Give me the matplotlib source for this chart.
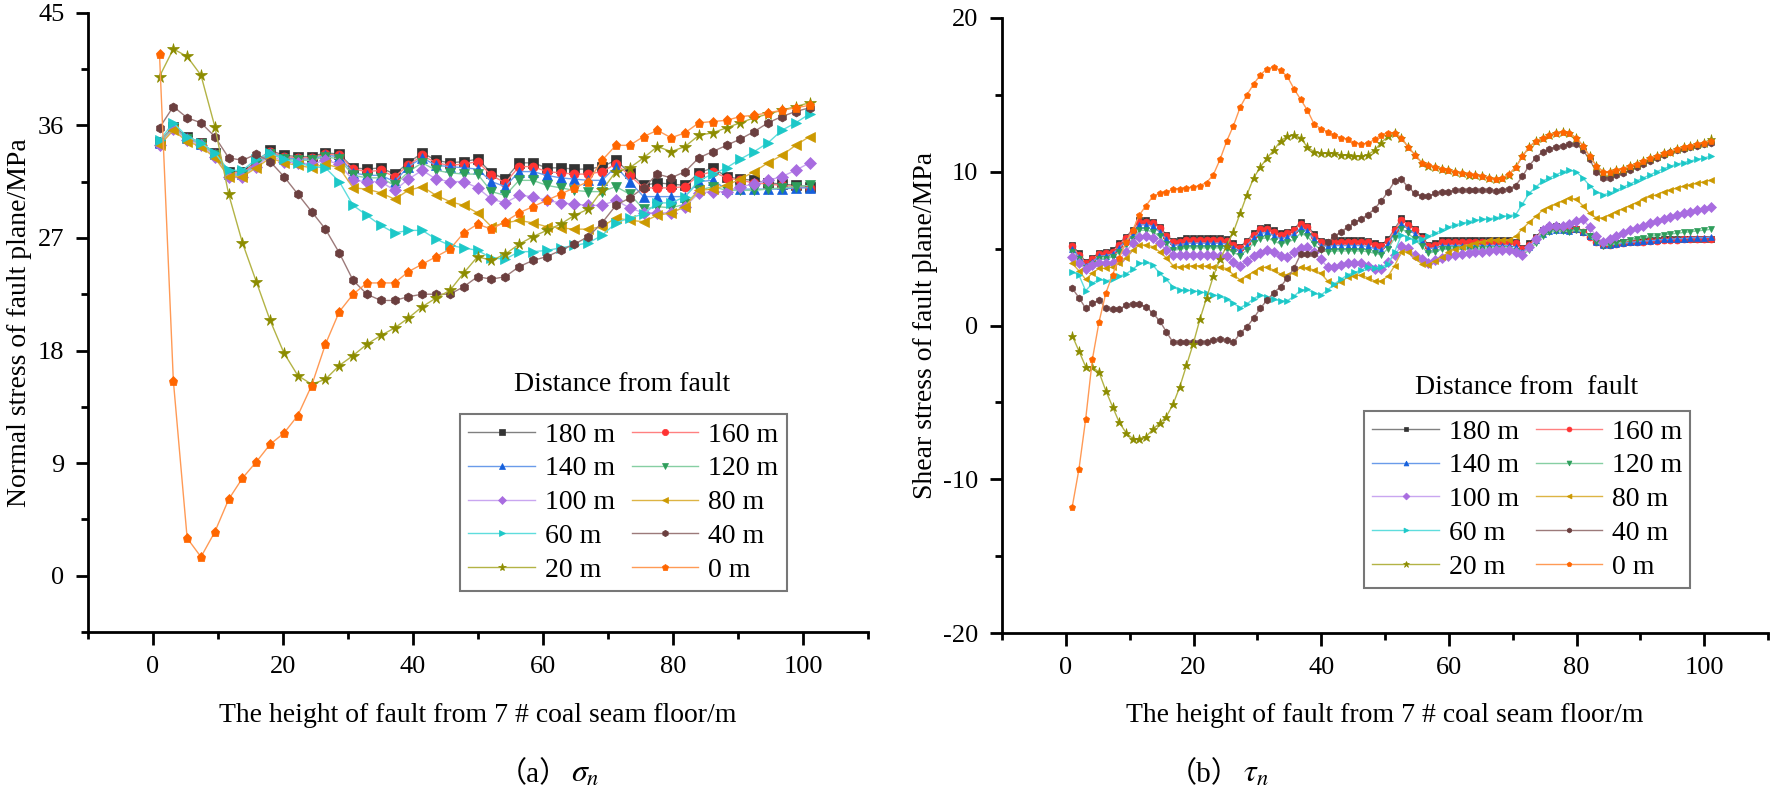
import numpy as np
import matplotlib
matplotlib.use('Agg')
import matplotlib.pyplot as plt
from matplotlib.ticker import MultipleLocator

plt.rcParams['font.family'] = ['Liberation Serif', 'Noto Sans CJK SC']
plt.rcParams['mathtext.fontset'] = 'stix'
plt.rcParams['axes.unicode_minus'] = False

labels = ['180 m', '160 m', '140 m', '120 m', '100 m', '80 m', '60 m', '40 m', '20 m', '0 m']

# (a) normal stress, 48 points from 1 to 101 m
sn_180 = [34.7, 35.9, 35.1, 34.6, 33.8, 32.3, 32.3, 33.1, 34.0, 33.6, 33.5, 33.5, 33.8, 33.7, 32.6,
          32.5, 32.6, 32.1, 33.0, 33.8, 33.2, 33.0, 33.1, 33.3, 32.2, 31.7, 33.0, 33.0, 32.6, 32.6,
          32.5, 32.5, 32.7, 33.2, 32.2, 31.2, 31.4, 31.3, 31.2, 32.2, 32.6, 31.9, 31.7, 31.6, 31.4,
          31.3, 31.2, 31.1]
sn_160 = [34.7, 35.8, 35.0, 34.6, 33.7, 32.2, 32.2, 33.0, 33.9, 33.5, 33.4, 33.4, 33.7, 33.6, 32.5,
          32.3, 32.4, 31.9, 32.8, 33.6, 33.0, 32.8, 32.9, 33.1, 32.0, 31.4, 32.7, 32.7, 32.3, 32.2,
          32.1, 32.1, 32.3, 32.9, 32.0, 31.0, 31.0, 31.0, 31.1, 32.0, 32.3, 31.8, 31.6, 31.4, 31.3,
          31.2, 31.1, 31.0]
sn_140 = [34.6, 35.8, 35.0, 34.5, 33.7, 32.1, 32.1, 32.9, 33.8, 33.4, 33.3, 33.3, 33.6, 33.5, 32.2,
          32.0, 32.0, 31.5, 32.7, 33.4, 32.8, 32.7, 32.6, 32.5, 31.5, 31.1, 32.3, 32.3, 32.0, 31.8,
          31.7, 31.6, 31.6, 32.7, 31.5, 30.3, 30.3, 30.3, 30.3, 31.5, 31.6, 30.9, 30.9, 30.9, 30.9,
          30.9, 31.0, 31.0]
sn_120 = [34.6, 35.8, 34.9, 34.5, 33.6, 32.0, 32.0, 32.8, 33.7, 33.3, 33.2, 33.2, 33.5, 33.3, 32.0,
          31.8, 31.8, 31.2, 32.3, 33.0, 32.4, 32.2, 32.1, 32.1, 30.7, 30.4, 31.6, 31.6, 31.2, 31.0,
          30.8, 30.7, 30.7, 31.1, 30.5, 29.3, 29.5, 29.4, 29.7, 30.8, 31.1, 30.8, 30.8, 30.8, 30.9,
          31.0, 31.1, 31.2]
sn_100 = [34.4, 35.7, 34.8, 34.4, 33.5, 31.9, 31.9, 32.7, 33.6, 33.1, 33.0, 32.9, 33.2, 32.9, 31.6,
          31.5, 31.5, 30.8, 31.7, 32.4, 31.7, 31.5, 31.5, 31.0, 30.1, 29.8, 30.4, 30.3, 30.0, 29.8,
          29.7, 29.6, 29.6, 30.0, 29.4, 29.0, 29.0, 29.0, 29.5, 30.6, 30.7, 30.7, 31.1, 31.3, 31.6,
          31.9, 32.4, 33.0]
sn_80 = [34.4, 35.6, 34.7, 34.3, 33.4, 31.9, 31.9, 32.6, 33.4, 33.0, 32.8, 32.6, 32.9, 32.6, 31.0,
         30.9, 30.6, 30.1, 30.8, 31.1, 30.4, 29.9, 29.6, 29.0, 27.9, 28.2, 28.4, 28.2, 27.9, 27.8,
         27.7, 27.7, 27.9, 28.6, 28.4, 28.3, 28.8, 29.0, 29.5, 30.8, 30.9, 31.2, 31.7, 32.3, 33.0,
         33.6, 34.4, 35.1]
sn_60 = [34.8, 36.2, 35.1, 34.6, 33.8, 32.4, 32.4, 33.3, 33.8, 33.3, 33.0, 32.7, 32.6, 31.5, 29.6,
         28.8, 28.0, 27.4, 27.6, 27.6, 26.9, 26.4, 26.2, 26.0, 25.4, 25.3, 25.9, 25.9, 26.0, 26.2,
         26.4, 26.6, 27.2, 28.2, 28.6, 28.9, 29.8, 29.8, 30.3, 31.6, 32.1, 32.6, 33.3, 33.9, 34.6,
         35.6, 36.2, 36.9]
sn_40 = [35.8, 37.5, 36.6, 36.2, 35.1, 33.4, 33.2, 33.7, 33.1, 31.9, 30.5, 29.1, 27.7, 25.8, 23.6,
         22.5, 22.0, 22.0, 22.3, 22.5, 22.5, 22.5, 23.1, 23.9, 23.7, 23.9, 24.7, 25.2, 25.5, 26.0,
         26.5, 27.1, 28.2, 29.6, 30.2, 31.0, 32.1, 31.8, 32.3, 33.4, 33.9, 34.4, 34.9, 35.5, 36.2,
         36.7, 37.1, 37.4]
sn_20 = [39.9, 42.1, 41.5, 40.0, 35.9, 30.5, 26.6, 23.5, 20.4, 17.8, 16.0, 15.3, 15.7, 16.8, 17.6,
         18.5, 19.2, 19.8, 20.6, 21.5, 22.2, 22.8, 24.2, 25.5, 25.2, 25.7, 26.5, 27.1, 27.6, 28.1,
         28.8, 29.3, 30.8, 32.3, 32.6, 33.4, 34.3, 33.9, 34.3, 35.2, 35.4, 35.8, 36.2, 36.6, 36.9,
         37.2, 37.5, 37.8]
sn_0 = [41.7, 15.6, 3.0, 1.5, 3.5, 6.1, 7.8, 9.1, 10.5, 11.4, 12.8, 15.2, 18.5, 21.1, 22.5,
        23.4, 23.4, 23.4, 24.3, 24.9, 25.5, 26.1, 27.4, 28.1, 27.7, 28.3, 29.0, 29.5, 30.0, 30.5,
        31.0, 31.5, 33.2, 34.4, 34.4, 35.1, 35.6, 35.0, 35.4, 36.2, 36.3, 36.4, 36.7, 36.8, 37.0,
        37.2, 37.4, 37.6]

# (b) shear stress, 96 points from 1 to 101 m
tau_180 = [5.24, 4.7, 4.15, 4.37, 4.74, 4.8, 4.9, 5.35, 5.78, 6.2, 6.86, 6.86, 6.75, 6.43, 5.9, 5.5,
           5.55, 5.67, 5.67, 5.67, 5.67, 5.67, 5.67, 5.6, 5.35, 5.13, 5.5, 6.0, 6.35, 6.43, 6.2, 6.0,
           6.1, 6.3, 6.7, 6.5, 5.95, 5.5, 5.45, 5.55, 5.56, 5.56, 5.56, 5.56, 5.5, 5.35, 5.25, 5.6,
           6.3, 6.97, 6.65, 6.3, 5.8, 5.24, 5.35, 5.55, 5.56, 5.56, 5.56, 5.56, 5.56, 5.56, 5.56, 5.56,
           5.56, 5.56, 5.45, 5.02, 5.35, 5.78, 6.2, 6.4, 6.45, 6.4, 6.3, 6.3, 6.1, 5.8, 5.5, 5.3,
           5.3, 5.35, 5.4, 5.45, 5.5, 5.5, 5.55, 5.55, 5.6, 5.6, 5.6, 5.6, 5.65, 5.65, 5.65, 5.65]
tau_160 = [5.15, 4.6, 4.05, 4.3, 4.65, 4.7, 4.8, 5.25, 5.7, 6.1, 6.75, 6.75, 6.65, 6.35, 5.8, 5.4,
           5.45, 5.55, 5.55, 5.55, 5.55, 5.55, 5.55, 5.5, 5.25, 5.05, 5.4, 5.9, 6.25, 6.3, 6.1, 5.9,
           6.0, 6.2, 6.6, 6.4, 5.85, 5.4, 5.35, 5.45, 5.45, 5.45, 5.45, 5.45, 5.4, 5.25, 5.15, 5.5,
           6.2, 6.85, 6.55, 6.2, 5.7, 5.15, 5.25, 5.45, 5.45, 5.45, 5.45, 5.45, 5.45, 5.45, 5.45, 5.45,
           5.45, 5.45, 5.35, 4.95, 5.25, 5.7, 6.1, 6.3, 6.35, 6.3, 6.2, 6.25, 6.05, 5.75, 5.45, 5.25,
           5.25, 5.3, 5.35, 5.4, 5.45, 5.45, 5.5, 5.5, 5.55, 5.55, 5.55, 5.6, 5.6, 5.6, 5.6, 5.6]
tau_140 = [5.0, 4.45, 3.9, 4.15, 4.5, 4.55, 4.65, 5.05, 5.5, 5.9, 6.55, 6.55, 6.45, 6.1, 5.6, 5.2,
           5.25, 5.35, 5.35, 5.35, 5.35, 5.35, 5.35, 5.3, 5.05, 4.85, 5.2, 5.7, 6.0, 6.05, 5.85, 5.65,
           5.75, 5.95, 6.35, 6.15, 5.6, 5.2, 5.15, 5.2, 5.2, 5.2, 5.2, 5.2, 5.15, 5.0, 4.9, 5.3,
           6.0, 6.6, 6.3, 5.95, 5.5, 5.0, 5.05, 5.2, 5.2, 5.2, 5.2, 5.2, 5.2, 5.2, 5.2, 5.2,
           5.2, 5.2, 5.1, 4.8, 5.1, 5.55, 5.95, 6.15, 6.2, 6.2, 6.15, 6.25, 6.1, 5.8, 5.45, 5.25,
           5.25, 5.3, 5.35, 5.4, 5.45, 5.5, 5.5, 5.55, 5.6, 5.6, 5.65, 5.65, 5.7, 5.7, 5.7, 5.75]
tau_120 = [4.8, 4.3, 3.75, 4.0, 4.3, 4.35, 4.45, 4.8, 5.25, 5.6, 6.2, 6.2, 6.1, 5.8, 5.3, 4.9,
           4.95, 5.05, 5.05, 5.05, 5.05, 5.05, 5.05, 5.0, 4.75, 4.55, 4.9, 5.35, 5.65, 5.7, 5.5, 5.3,
           5.4, 5.6, 6.0, 5.8, 5.3, 4.9, 4.8, 4.85, 4.85, 4.85, 4.85, 4.85, 4.8, 4.7, 4.6, 5.0,
           5.7, 6.3, 6.0, 5.6, 5.15, 4.7, 4.8, 4.95, 4.95, 4.95, 4.95, 4.95, 4.95, 4.95, 4.95, 4.95,
           4.95, 4.95, 4.85, 4.6, 4.9, 5.35, 5.8, 6.05, 6.15, 6.15, 6.1, 6.2, 6.1, 5.8, 5.4, 5.2,
           5.25, 5.35, 5.45, 5.55, 5.65, 5.7, 5.8, 5.85, 5.9, 5.95, 6.0, 6.05, 6.1, 6.15, 6.2, 6.25]
tau_100 = [4.47, 4.04, 3.65, 3.93, 4.08, 4.08, 4.08, 4.26, 4.8, 5.35, 5.78, 5.8, 5.67, 5.35, 4.9, 4.6,
           4.58, 4.58, 4.58, 4.58, 4.58, 4.58, 4.55, 4.5, 4.15, 3.85, 4.2, 4.5, 4.7, 4.9, 4.8, 4.55,
           4.47, 4.75, 5.05, 5.1, 4.8, 4.3, 3.8, 3.8, 3.95, 4.04, 4.04, 4.04, 3.85, 3.65, 3.7, 4.1,
           4.6, 5.2, 5.05, 4.6, 4.3, 4.05, 4.25, 4.4, 4.5, 4.6, 4.65, 4.7, 4.75, 4.8, 4.85, 4.9,
           4.9, 4.9, 4.8, 4.6, 5.1, 5.6, 6.2, 6.45, 6.5, 6.5, 6.6, 6.8, 6.9, 6.4, 5.8, 5.4,
           5.6, 5.8, 6.0, 6.2, 6.35, 6.5, 6.65, 6.8, 6.9, 7.05, 7.2, 7.3, 7.4, 7.5, 7.6, 7.7]
tau_80 = [4.04, 3.56, 3.0, 3.4, 3.72, 3.72, 3.82, 4.04, 4.37, 4.9, 5.24, 5.24, 5.13, 4.8, 4.4, 3.9,
          3.8, 3.85, 3.89, 3.89, 3.85, 3.82, 3.8, 3.7, 3.3, 2.96, 3.2, 3.5, 3.75, 3.8, 3.6, 3.35,
          3.3, 3.4, 3.8, 3.75, 3.6, 3.4, 2.9, 2.64, 2.85, 3.15, 3.25, 3.28, 3.1, 2.9, 2.9, 3.2,
          3.9, 4.8, 4.8, 4.4, 4.0, 3.95, 4.2, 4.45, 4.75, 4.95, 5.1, 5.25, 5.35, 5.45, 5.55, 5.56,
          5.56, 5.56, 5.8, 6.3, 6.7, 7.1, 7.5, 7.7, 7.9, 8.1, 8.3, 8.2, 7.8, 7.3, 7.0, 7.0,
          7.2, 7.4, 7.6, 7.8, 8.0, 8.2, 8.4, 8.5, 8.7, 8.8, 8.95, 9.05, 9.15, 9.25, 9.35, 9.45]
tau_60 = [3.5, 3.28, 2.26, 2.74, 3.0, 2.9, 3.0, 3.2, 3.35, 3.65, 4.04, 4.1, 3.93, 3.4, 3.0, 2.5,
          2.3, 2.3, 2.25, 2.2, 2.1, 2.0, 1.9, 1.7, 1.45, 1.15, 1.4, 1.75, 2.0, 1.85, 1.7, 1.6,
          1.6, 1.9, 2.3, 2.35, 2.1, 1.98, 2.3, 2.7, 3.0, 3.3, 3.45, 3.6, 3.8, 3.75, 3.8, 4.0,
          4.8, 5.9, 5.7, 5.5, 5.6, 5.8, 6.0, 6.2, 6.4, 6.55, 6.65, 6.75, 6.85, 6.9, 6.95, 7.0,
          7.1, 7.15, 7.2, 7.9, 8.6, 9.0, 9.4, 9.6, 9.8, 10.0, 10.1, 10.0, 9.6, 9.1, 8.7, 8.5,
          8.6, 8.8, 9.0, 9.2, 9.4, 9.6, 9.8, 10.0, 10.2, 10.35, 10.5, 10.6, 10.7, 10.8, 10.9, 11.0]
tau_40 = [2.42, 1.81, 1.12, 1.44, 1.66, 1.12, 1.05, 1.05, 1.33, 1.4, 1.38, 1.22, 0.79, 0.31, -0.4, -1.1,
          -1.1, -1.1, -1.1, -1.1, -1.05, -0.95, -0.9, -0.95, -1.1, -0.5, -0.08, 0.47, 1.12, 1.66, 2.13, 2.52,
          3.07, 3.72, 4.65, 4.65, 4.65, 5.0, 5.4, 5.8, 6.1, 6.4, 6.7, 6.95, 7.2, 7.6, 8.1, 8.7,
          9.4, 9.5, 9.0, 8.6, 8.4, 8.4, 8.6, 8.7, 8.7, 8.8, 8.8, 8.8, 8.8, 8.8, 8.8, 8.75,
          8.8, 8.9, 9.1, 9.7, 10.4, 10.9, 11.3, 11.5, 11.6, 11.7, 11.8, 11.8, 11.4, 10.8, 10.0, 9.6,
          9.6, 9.8, 9.9, 10.1, 10.3, 10.5, 10.7, 10.9, 11.1, 11.3, 11.4, 11.5, 11.6, 11.7, 11.8, 11.9]
tau_20 = [-0.66, -1.66, -2.68, -2.68, -3.05, -4.24, -5.28, -6.3, -6.97, -7.36, -7.36, -7.23, -6.75, -6.36, -5.93, -5.13,
          -4.0, -2.6, -1.2, 0.4, 1.8, 3.2, 4.3, 5.2, 6.1, 7.3, 8.5, 9.6, 10.3, 10.9, 11.4, 12.0,
          12.3, 12.4, 12.2, 11.6, 11.3, 11.2, 11.2, 11.2, 11.1, 11.1, 11.0, 11.0, 11.1, 11.4, 11.9, 12.3,
          12.5, 12.2, 11.6, 11.1, 10.6, 10.4, 10.3, 10.2, 10.1, 10.0, 9.9, 9.8, 9.8, 9.7, 9.6, 9.5,
          9.6, 9.8, 10.3, 11.0, 11.6, 12.0, 12.2, 12.4, 12.5, 12.6, 12.5, 12.2, 11.7, 11.0, 10.4, 10.0,
          10.0, 10.1, 10.2, 10.4, 10.5, 10.7, 10.9, 11.0, 11.2, 11.3, 11.5, 11.6, 11.7, 11.8, 11.9, 12.1]
tau_0 = [-11.8, -9.35, -6.1, -2.2, 0.25, 2.1, 3.3, 4.4, 5.4, 6.2, 7.2, 7.8, 8.4, 8.6, 8.7, 8.85,
         8.9, 8.95, 9.0, 9.1, 9.3, 9.8, 10.8, 12.0, 13.0, 14.2, 15.0, 15.7, 16.3, 16.7, 16.8, 16.6,
         16.2, 15.4, 14.7, 14.0, 13.1, 12.8, 12.6, 12.4, 12.2, 12.1, 11.9, 11.8, 11.85, 12.1, 12.4, 12.55,
         12.5, 12.2, 11.6, 11.1, 10.6, 10.45, 10.3, 10.2, 10.1, 10.0, 9.9, 9.85, 9.8, 9.7, 9.6, 9.5,
         9.6, 9.85, 10.3, 11.0, 11.6, 12.0, 12.2, 12.4, 12.5, 12.6, 12.5, 12.2, 11.7, 11.0, 10.4, 10.0,
         10.0, 10.1, 10.2, 10.4, 10.5, 10.7, 10.9, 11.0, 11.2, 11.3, 11.5, 11.6, 11.7, 11.8, 11.9, 12.0]

sn_all = [sn_180, sn_160, sn_140, sn_120, sn_100, sn_80, sn_60, sn_40, sn_20, sn_0]
tau_all = [tau_180, tau_160, tau_140, tau_120, tau_100, tau_80, tau_60, tau_40, tau_20, tau_0]

# marker colour, line colour, marker
styles = [('#333333', '#808080', 's'),
          ('#FF3333', '#FF8080', 'o'),
          ('#1560DD', '#6A9BEA', '^'),
          ('#2E9E5B', '#86CFA3', 'v'),
          ('#A86CE0', '#C9A6F0', 'D'),
          ('#CC9900', '#DDB444', '<'),
          ('#1CC8C8', '#5FDDDD', '>'),
          ('#6B3F3F', '#9C7A7A', 'h'),
          ('#8C8C00', '#B3B345', '*'),
          ('#FF6600', '#FF9A55', 'p')]

fig = plt.figure(figsize=(17.72, 7.97), dpi=100)
ax1 = fig.add_axes([88/1772, 1-632/797, 780/1772, 619.3/797])
ax2 = fig.add_axes([1002/1772, 1-633/797, 766/1772, 615/797])


def draw(ax, data, ms):
    hs = []
    for vals, (mc, lc, mk) in zip(data, styles):
        x = np.linspace(1, 101, len(vals))
        s = ms * 1.3 if mk == '*' else ms
        h, = ax.plot(x, vals, color=lc, lw=1.0, marker=mk, ms=s, mfc=mc, mec=mc, mew=0.5)
        hs.append(h)
    return hs


def style_axes(ax):
    for sp in ['top', 'right']:
        ax.spines[sp].set_visible(False)
    for sp in ['left', 'bottom']:
        ax.spines[sp].set_linewidth(2.0)
    ax.tick_params(which='major', direction='out', length=9, width=2.0, labelsize=19, pad=8)
    ax.tick_params(which='minor', direction='out', length=5, width=2.0)
    ax.set_xlim(-10, 110)
    ax.xaxis.set_major_locator(MultipleLocator(20))
    ax.xaxis.set_minor_locator(MultipleLocator(10))


h1 = draw(ax1, sn_all, 6.5)
h2 = draw(ax2, tau_all, 5.0)

style_axes(ax1)
ax1.set_ylim(-4.5, 45)
ax1.yaxis.set_major_locator(MultipleLocator(9))
ax1.yaxis.set_minor_locator(MultipleLocator(4.5))
ax1.set_ylabel('Normal stress of fault plane/MPa', fontsize=20, labelpad=4)

style_axes(ax2)
ax2.set_ylim(-20, 20)
ax2.yaxis.set_major_locator(MultipleLocator(10))
ax2.yaxis.set_minor_locator(MultipleLocator(5))
ax2.set_ylabel('Shear stress of fault plane/MPa', fontsize=20, labelpad=4)

for ax in (ax1, ax2):
    for t in ax.get_xticklabels() + ax.get_yticklabels():
        t.set_family('Liberation Serif')

order = [0, 2, 4, 6, 8, 1, 3, 5, 7, 9]
for ax, hs, anchor, title in [(ax1, h1, (0.477, 0.066), 'Distance from fault'),
                              (ax2, h2, (0.4726, 0.073), 'Distance from  fault')]:
    leg = ax.legend([hs[i] for i in order], [labels[i] for i in order], ncol=2,
                    loc='lower left', bbox_to_anchor=anchor, borderaxespad=0,
                    fontsize=20, frameon=True, fancybox=False, handlelength=2.4,
                    handletextpad=0.35, columnspacing=0.6, labelspacing=0.3,
                    borderpad=0.3, markerscale=0.7)
    leg.get_frame().set_edgecolor('#555555')
    leg.get_frame().set_linewidth(1.5)
    ax.text(0.685, 0.40, title, transform=ax.transAxes, ha='center', va='center', fontsize=20)

xlab = 'The height of fault from 7 # coal seam floor/m'
fig.text(478/1772, 1-716/797, xlab, ha='center', va='center', fontsize=20)
fig.text(1385/1772, 1-716/797, xlab, ha='center', va='center', fontsize=20)

# sub captions: brackets fall back to the CJK font, symbol from mathtext
for cx, tag, sym in [(561, '（a）', '$\\sigma_n$'), (1233, '（b）', '$\\tau_n$')]:
    fig.text((cx + 8)/1772, 1-774/797, tag, ha='right', va='center', fontsize=21)
    fig.text((cx + 10)/1772, 1-774/797, sym, ha='left', va='center', fontsize=23)

fig.savefig('out.png', dpi=100)
